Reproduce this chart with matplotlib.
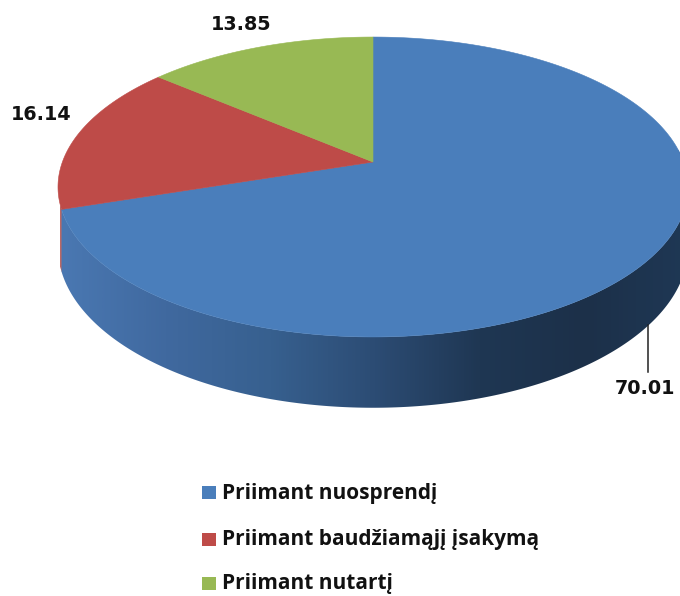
import numpy as np
import matplotlib
matplotlib.use('Agg')
import matplotlib.pyplot as plt
from matplotlib.colors import LinearSegmentedColormap
from matplotlib.patches import Polygon, Rectangle

labels = ['Priimant nuosprendį', 'Priimant baudžiamąjį įsakymą', 'Priimant nutartį']
values = [70.01, 16.14, 13.85]
colors = ['#4a7ebb', '#be4b48', '#98b954']

plt.rcParams['font.family'] = ['Open Sans', 'DejaVu Sans']

# perspective of the tilted pie, in pixels
cx, cy = 373, 162
rx = 310.6
ry = 145.8
k = 1 / 6
depth = 59


def project(theta, drop=0.0):
    u = np.sin(theta)
    v = np.cos(theta)
    w = 1 + k * v
    return cx + rx * u / w, cy - ry * v / w + drop / w


def rim(a, b, drop=0.0, n=300):
    x, y = project(np.linspace(a, b, n), drop)
    return np.column_stack([x, y])


fig = plt.figure(figsize=(6.8, 5.96), dpi=100)
ax = fig.add_axes([0, 0, 1, 1])
ax.set_xlim(0, 680)
ax.set_ylim(596, 0)
ax.axis('off')

edges = 2 * np.pi * np.concatenate([[0], np.cumsum(values)]) / sum(values)

# side wall, blue part with shading from left to right
side_cmap = LinearSegmentedColormap.from_list(
    'side', ['#4a78b2', '#40699f', '#37608f', '#2c4c74', '#1f3753', '#1c3049', '#1f3855'])
left_end = edges[1]
wall = np.vstack([rim(np.pi / 2 - 0.6, left_end), rim(left_end, np.pi / 2 - 0.6, depth)])
grad = np.linspace(0, 1, 512).reshape(1, -1)
im = ax.imshow(grad, cmap=side_cmap, extent=[60, 690, 420, 150], aspect='auto', zorder=1)
ax.set_xlim(0, 680)
ax.set_ylim(596, 0)
wall_patch = Polygon(wall, closed=True, facecolor='none', edgecolor='none')
ax.add_patch(wall_patch)
im.set_clip_path(wall_patch)

# thin red sliver of the side at the left
red_wall = np.vstack([rim(edges[1] - 0.005, edges[1] + 0.03), rim(edges[1] + 0.03, edges[1] - 0.005, depth)])
ax.fill(red_wall[:, 0], red_wall[:, 1], color='#a83e3c', lw=0, zorder=0.5)

# top faces
for i, val in enumerate(values):
    pts = np.vstack([[cx, cy], rim(edges[i], edges[i + 1])])
    ax.add_patch(Polygon(pts, closed=True, facecolor=colors[i], edgecolor=colors[i], lw=0.4, zorder=2))

# data labels
num_font = dict(fontsize=13.8, fontweight='bold', family='DejaVu Sans', color='#111111', ha='center', va='center')
ax.text(241.5, 24, '%.2f' % values[2], **num_font)
ax.text(41, 114, '%.2f' % values[1], **num_font)
ax.text(645, 388, '%.2f' % values[0], **num_font)
ax.plot([648, 648], [325, 372], color='#222222', lw=1.1, zorder=3)

# legend
legend_y = [493, 540, 584]
for lab, col, y in zip(labels, colors, legend_y):
    ax.add_patch(Rectangle((202, y - 7), 14, 13, facecolor=col, edgecolor='none'))
    ax.text(222, y, lab, fontsize=15, fontweight='bold', color='#111111', ha='left', va='center')

fig.savefig('out.png', dpi=100, facecolor='white')
